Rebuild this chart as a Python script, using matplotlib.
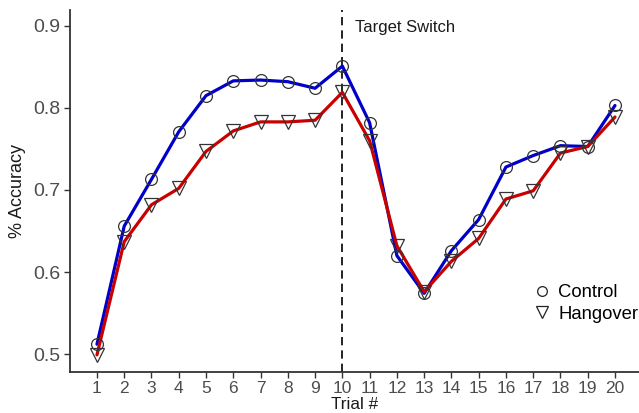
import matplotlib
matplotlib.use("Agg")
import matplotlib.pyplot as plt
from matplotlib.lines import Line2D

plt.rcParams['font.family'] = ['Liberation Sans', 'DejaVu Sans']

trials = list(range(1, 21))
control = [0.512, 0.656, 0.713, 0.771, 0.815, 0.833, 0.834, 0.832, 0.824, 0.851,
           0.782, 0.620, 0.574, 0.626, 0.664, 0.728, 0.742, 0.754, 0.753, 0.803]
hangover = [0.499, 0.637, 0.682, 0.702, 0.747, 0.772, 0.783, 0.783, 0.785, 0.819,
            0.760, 0.632, 0.576, 0.613, 0.641, 0.689, 0.699, 0.745, 0.753, 0.789]
yticks = [0.5, 0.6, 0.7, 0.8, 0.9]
switch_trial = 10

fig = plt.figure(figsize=(6.39, 4.13), dpi=100)
ax = fig.add_axes([0.1095, 0.100, 0.8905, 0.876])

ax.axvline(switch_trial, color='black', linestyle=(0, (5, 3)), linewidth=1.2, zorder=1)

ax.plot(trials, control, color='#0000c8', linewidth=2.3, zorder=2, solid_capstyle='round')
ax.plot(trials, hangover, color='#c80000', linewidth=2.3, zorder=2, solid_capstyle='round')
ax.plot(trials, control, linestyle='none', marker='o', markersize=8.5,
        markerfacecolor='none', markeredgecolor='#333333', markeredgewidth=0.9, zorder=3)
ax.plot(trials, hangover, linestyle='none', marker='v', markersize=10,
        markerfacecolor='none', markeredgecolor='#333333', markeredgewidth=0.9, zorder=3)

ax.text(switch_trial + 0.45, 0.8976, 'Target Switch', fontsize=12, color='#1a1a1a',
        ha='left', va='center')

ax.set_xlim(0.01, 20.88)
ax.set_ylim(0.4785, 0.9195)
ax.set_xticks(trials)
ax.set_yticks(yticks)
ax.set_xticklabels([str(t) for t in trials], fontsize=12.5, color='#4d4d4d')
ax.set_yticklabels([f'{v:.1f}' for v in yticks], fontsize=14, color='#4d4d4d')
ax.tick_params(axis='both', color='#333333', width=1, length=4, pad=3)

for s in ['top', 'right']:
    ax.spines[s].set_visible(False)
for s in ['left', 'bottom']:
    ax.spines[s].set_color('#333333')
    ax.spines[s].set_linewidth(1.3)

ax.set_xlabel('Trial #', fontsize=12.3, color='#1a1a1a', labelpad=0.5)
ax.set_ylabel('% Accuracy', fontsize=13, color='#1a1a1a', labelpad=5)

handles = [Line2D([], [], linestyle='none', marker='o', markersize=7, markerfacecolor='none',
                  markeredgecolor='#222222', markeredgewidth=0.9),
           Line2D([], [], linestyle='none', marker='v', markersize=8, markerfacecolor='none',
                  markeredgecolor='#222222', markeredgewidth=0.9)]
ax.legend(handles, ['Control', 'Hangover'], loc='center left', bbox_to_anchor=(0.7996, 0.1886),
          frameon=False, fontsize=13.3, handlelength=1.0, handletextpad=0.4,
          labelspacing=0.25, borderaxespad=0)

fig.savefig('out.png', dpi=100)
